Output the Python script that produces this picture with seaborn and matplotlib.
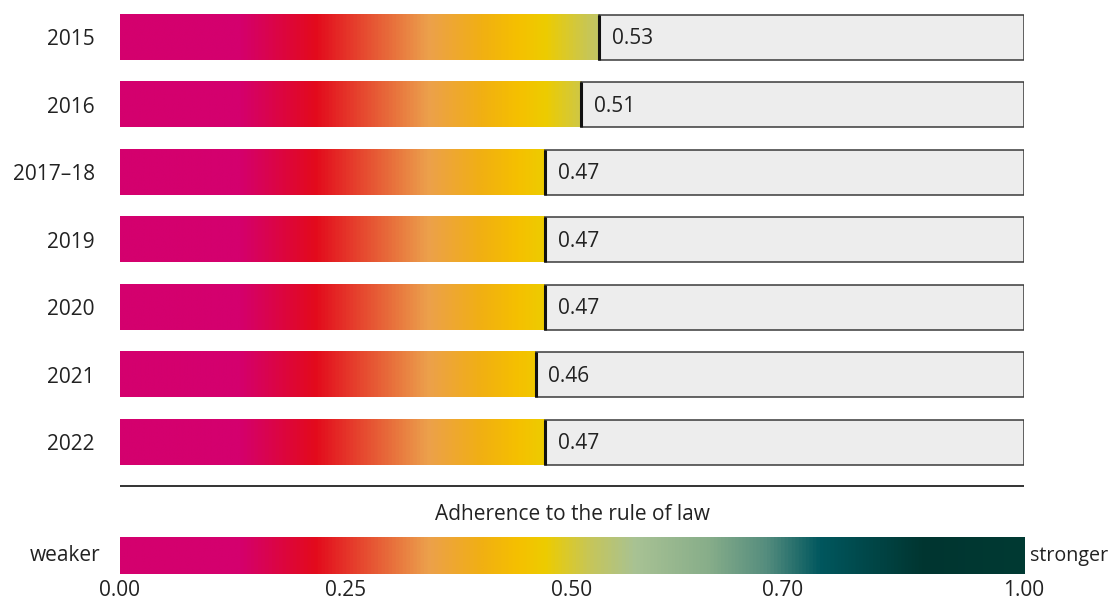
import numpy as np
import pandas as pd
import matplotlib
matplotlib.use("Agg")
import matplotlib.pyplot as plt
from matplotlib.colors import LinearSegmentedColormap
import seaborn as sns

# Rule-of-law adherence score per survey year
years = ["2015", "2016", "2017–18", "2019", "2020", "2021", "2022"]
scores = [0.53, 0.51, 0.47, 0.47, 0.47, 0.46, 0.47]
value_labels = ["0.53", "0.51", "0.47", "0.47", "0.47", "0.46", "0.47"]

# Scale legend
scale_ticks = [0.0, 0.25, 0.50, 0.733, 1.0]
scale_labels = ["0.00", "0.25", "0.50", "0.70", "1.00"]

# Colour ramp from weak (magenta) to strong (dark green)
ramp_stops = [0.0, 0.13, 0.215, 0.30, 0.34, 0.40, 0.44, 0.47, 0.52, 0.57, 0.65, 0.715, 0.775, 0.89, 1.0]
ramp_colors = ["#D4006E", "#D4006E", "#E30A1C", "#E8703C", "#ECA04C", "#F1B012", "#F5C000",
               "#EDCC00", "#C6C65A", "#A8C294", "#88AE8A", "#558D7E", "#00575E", "#003530", "#003A33"]
cmap = LinearSegmentedColormap.from_list("rule_of_law", list(zip(ramp_stops, ramp_colors)))

sns.set_theme(style="white")
plt.rcParams["font.family"] = ["Open Sans", "DejaVu Sans"]
text_color = "#222222"
fs = 15

fig = plt.figure(figsize=(11.11, 6.03), dpi=100)
ax = fig.add_axes([0.108, 0.1824, 0.8137, 0.8176])
cax = fig.add_axes([0.108, 0.0480, 0.8137, 0.0614])

df = pd.DataFrame({"year": years, "score": scores, "full": [1.0] * len(years)})
bar_h = 0.67

# Light grey track spanning the full 0–1 range
sns.barplot(data=df, x="full", y="year", orient="h", color="#EDEDED",
            width=bar_h, edgecolor="none", linewidth=0, saturation=1, ax=ax, zorder=1)

grad = np.linspace(0, 1, 1024).reshape(1, -1)
for i, (v, lab) in enumerate(zip(scores, value_labels)):
    y0, y1 = i - bar_h / 2, i + bar_h / 2
    # gradient fill from 0 to the score
    part = np.linspace(0, v, 1024).reshape(1, -1)
    ax.imshow(part, cmap=cmap, vmin=0, vmax=1, extent=(0, v, y1, y0),
              aspect="auto", interpolation="bilinear", zorder=2)
    # outline of the remaining track
    ax.barh(i, 1 - v, left=v, height=bar_h, fill=False, edgecolor="#3a3a3a",
            linewidth=1.1, zorder=3)
    # marker at the score
    ax.vlines(v, y0, y1, color="#111111", linewidth=2.2, zorder=4)
    ax.text(v + 0.014, i + 0.02, lab, ha="left", va="center", fontsize=fs, color=text_color, zorder=5)

ax.axhline(6.64, xmin=0, xmax=1, color="#333333", linewidth=1.4)
ax.set_xlim(0, 1)
ax.set_ylim(6.75, -0.55)
ax.set_xlabel("")
ax.set_ylabel("")
ax.set_xticks([])
ax.tick_params(axis="y", length=0, pad=18, labelsize=fs, labelcolor=text_color)
sns.despine(ax=ax, left=True, bottom=True)

# Scale bar
cax.imshow(grad, cmap=cmap, vmin=0, vmax=1, extent=(0, 1, 0, 1),
           aspect="auto", interpolation="bilinear")
cax.set_xlim(0, 1)
cax.set_ylim(0, 1)
cax.set_yticks([])
cax.set_xticks(scale_ticks)
cax.set_xticklabels(scale_labels)
cax.tick_params(axis="x", length=0, pad=4, labelsize=fs, labelcolor=text_color)
for s in cax.spines.values():
    s.set_visible(False)
cax.text(0.5, 1.60, "Adherence to the rule of law", ha="center", va="center",
         fontsize=fs, color=text_color, transform=cax.transAxes)
cax.text(-0.022, 0.5, "weaker", ha="right", va="center", fontsize=fs,
         color=text_color, transform=cax.transAxes)
cax.text(1.0066, 0.5, "stronger", ha="left", va="center", fontsize=14.2,
         color=text_color, transform=cax.transAxes)

fig.savefig("out.png", dpi=100)
